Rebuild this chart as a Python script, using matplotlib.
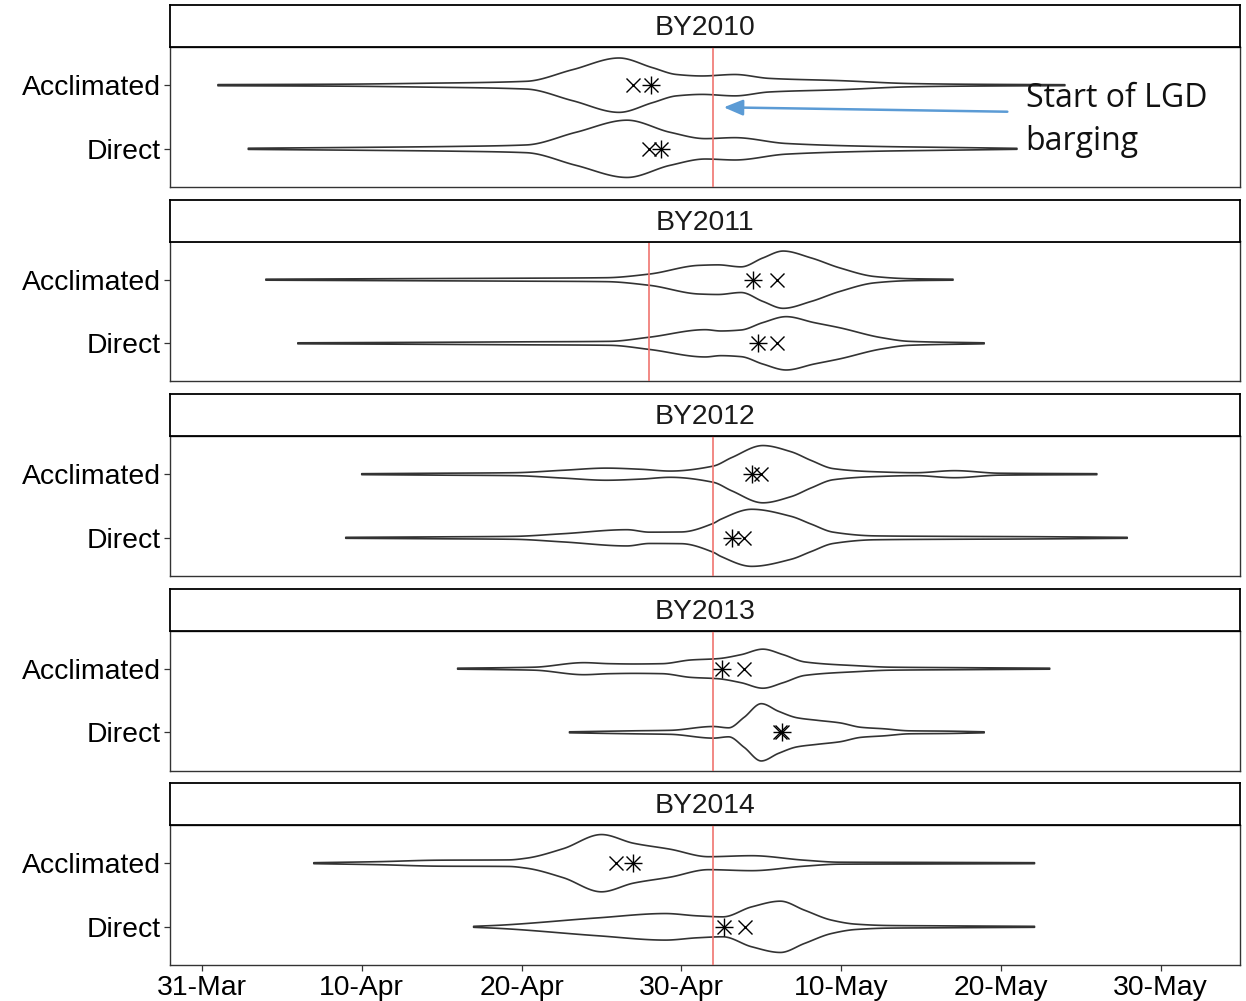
import numpy as np
import matplotlib
matplotlib.use("Agg")
import matplotlib.pyplot as plt

plt.rcParams["font.family"] = ["Liberation Sans", "DejaVu Sans"]

# Brood years shown as facets, top to bottom
brood_years = ["BY2010", "BY2011", "BY2012", "BY2013", "BY2014"]
groups = ["Acclimated", "Direct"]

# x axis: days after 31-Mar
tick_days = [0, 10, 20, 30, 40, 50, 60]
tick_labels = ["31-Mar", "10-Apr", "20-Apr", "30-Apr", "10-May", "20-May", "30-May"]

# Start of LGD barging per brood year (days after 31-Mar)
barging_start = [32, 28, 32, 32, 32]

# Violin density profiles: passage day and relative density
acc_days = [
    [1.0, 8.5, 14.0, 20.3, 23.2, 26.1, 28.2, 29.7, 31.3, 33.35, 35.5, 39.9, 44.3, 47.6, 54.0],
    [4.0, 12, 20, 25.3, 28.0, 31.1, 32.3, 33.74, 35.1, 36.37, 38.13, 39.9, 42.1, 44.27, 47.0],
    [10.0, 15, 19.5, 22.6, 25.3, 27.5, 29.3, 32.0, 33.15, 35.1, 36.86, 38.13, 39.5, 42.1, 44.66, 47.1, 49.9, 56.0],
    [16.0, 19, 20.8, 23.9, 25.5, 27.0, 28.8, 30.6, 32.27, 33.74, 35.1, 36.37, 37.74, 40.95, 43.1, 47.6, 53.05],
    [7.0, 11, 14.8, 19.2, 20.3, 22.6, 25.0, 27.0, 29.3, 31.7, 34.4, 37.7, 39.9, 45, 52.1],
]
acc_density = [
    [0.6, 1.0, 2.0, 4.0, 16.0, 28.0, 18.0, 11.0, 9.5, 11.0, 7.0, 4.7, 1.7, 1.0, 0.5],
    [0.5, 1.0, 1.5, 2.0, 5.7, 14.5, 15.0, 13.0, 22, 29, 22, 12, 3.2, 1.0, 0.5],
    [0.5, 1.0, 1.5, 4.0, 6.2, 5.0, 3.2, 8.3, 17.0, 29.3, 23.0, 14, 5.7, 2.5, 1.5, 3.6, 1.0, 0.5],
    [0.5, 1.0, 1.5, 6.0, 5.0, 4.7, 5.0, 8.7, 10.0, 14, 19.5, 14, 6.7, 3.0, 1.5, 1.0, 0.5],
    [0.5, 1.5, 3.0, 3.3, 5.0, 14.5, 28.7, 20.0, 14.0, 6.5, 7.5, 3.0, 1.0, 0.8, 0.5],
]
dir_days = [
    [2.9, 10, 16, 20.3, 23.4, 26.6, 29.3, 31.5, 33.35, 36.56, 42.1, 46.4, 51.0],
    [6.0, 14, 20, 25.5, 28.0, 31.5, 32.47, 33.74, 35.1, 36.56, 38.3, 39.9, 42.5, 44.27, 48.95],
    [9.0, 15, 19.5, 22.6, 26.6, 28.0, 30.0, 32.0, 32.47, 34.4, 36.86, 38.13, 39.5, 42.1, 46.6, 51.5, 57.9],
    [23.0, 27, 29.3, 32.0, 32.96, 33.93, 35.0, 36.08, 37.25, 38.5, 39.9, 41.25, 42.7, 44.27, 46.6, 48.95],
    [17.0, 18.5, 24.8, 29.0, 31.0, 32.6, 34.4, 36.2, 37.7, 39.4, 40.9, 43, 46, 52.1],
]
dir_density = [
    [0.6, 1.5, 2.5, 4.0, 17.0, 29.5, 17.0, 10.5, 11.5, 5.5, 2.5, 1.5, 0.5],
    [0.5, 1.0, 1.5, 2.0, 6.2, 13.8, 12.5, 13.5, 21, 27, 21, 15.8, 5.8, 2.0, 0.5],
    [0.5, 1.0, 1.5, 4.2, 8.3, 5.8, 6.0, 14.8, 19.0, 29.2, 22.0, 14, 5.8, 2.0, 1.5, 1.2, 0.5],
    [0.5, 1.5, 2.0, 5.8, 4.5, 15.0, 28.6, 21.0, 14.5, 12.0, 9.5, 5.0, 3.5, 1.5, 1.2, 0.5],
    [0.5, 1.5, 9.0, 13.3, 11.0, 10.0, 20.0, 25.7, 16.7, 6.7, 2.7, 1.3, 1.0, 0.5],
]

# Summary statistics (days after 31-Mar)
acc_mean = [28.1, 34.5, 34.4, 32.56, 27.0]
acc_median = [27.0, 36.0, 35.0, 33.93, 25.9]
dir_mean = [28.7, 34.8, 33.15, 36.27, 32.7]
dir_median = [28.0, 36.0, 33.93, 36.17, 34.0]


def pchip(x, y, xs):
    x = np.asarray(x, float)
    y = np.asarray(y, float)
    h = np.diff(x)
    delta = np.diff(y) / h
    n = len(x)
    m = np.zeros(n)
    for k in range(1, n - 1):
        if delta[k - 1] * delta[k] > 0:
            w1 = 2 * h[k] + h[k - 1]
            w2 = h[k] + 2 * h[k - 1]
            m[k] = (w1 + w2) / (w1 / delta[k - 1] + w2 / delta[k])
    m[0] = delta[0]
    m[-1] = delta[-1]
    idx = np.clip(np.searchsorted(x, xs) - 1, 0, n - 2)
    t = (xs - x[idx]) / h[idx]
    h00 = 2 * t**3 - 3 * t**2 + 1
    h10 = t**3 - 2 * t**2 + t
    h01 = -2 * t**3 + 3 * t**2
    h11 = t**3 - t**2
    return h00 * y[idx] + h10 * h[idx] * m[idx] + h01 * y[idx + 1] + h11 * h[idx] * m[idx + 1]


def draw_violin(ax, pos, days, dens, scale):
    xs = np.linspace(days[0], days[-1], 600)
    w = np.clip(pchip(days, dens, xs), 0, None) * scale
    px = np.concatenate([xs, xs[::-1]])
    py = np.concatenate([pos - w, (pos + w)[::-1]])
    ax.fill(px, py, facecolor="none", edgecolor="#333333", lw=1.2,
            joinstyle="round", zorder=2)


def draw_stat(ax, pos, mean, median):
    ax.plot([median], [pos], marker="x", ms=9.5, mew=1.0, color="black",
            ls="none", zorder=4)
    ax.plot([mean], [pos], marker="x", ms=9.5, mew=1.0, color="black",
            ls="none", zorder=4)
    ax.plot([mean], [pos], marker="+", ms=13.4, mew=1.0, color="black",
            ls="none", zorder=4)


W, H = 1246, 1001
fig = plt.figure(figsize=(W / 100, H / 100), dpi=100)

left = 170 / W
width = 1070 / W
step = 194.5
fs = 20.4

axes = []
for i, by in enumerate(brood_years):
    off = step * i
    ax = fig.add_axes([left, 1 - (187 + off) / H, width, 140 / H])
    sax = fig.add_axes([left, 1 - (47 + off) / H, width, 42 / H])
    sax.set_xticks([])
    sax.set_yticks([])
    for sp in sax.spines.values():
        sp.set_color("black")
        sp.set_linewidth(1.3)
    sax.text(0.5, 0.45, by, ha="center", va="center", fontsize=fs,
             color="#1A1A1A", transform=sax.transAxes)

    peak = max(max(acc_density[i]), max(dir_density[i]))
    scale = 0.45 / peak
    draw_violin(ax, 0, acc_days[i], acc_density[i], scale)
    draw_violin(ax, 1, dir_days[i], dir_density[i], scale)
    ax.axvline(barging_start[i], color="#F07470", lw=1.2, zorder=3)
    draw_stat(ax, 0, acc_mean[i], acc_median[i])
    draw_stat(ax, 1, dir_mean[i], dir_median[i])

    ax.set_xlim(-2.0, 64.96)
    ax.set_ylim(1.6, -0.6)
    ax.set_yticks([0, 1])
    ax.set_yticklabels(groups, fontsize=fs, color="black")
    ax.set_xticks(tick_days)
    ax.tick_params(axis="both", length=4.5, width=0.9, color="#333333", pad=2)
    if i == len(brood_years) - 1:
        ax.set_xticklabels(tick_labels, fontsize=fs, color="black")
        ax.tick_params(axis="x", pad=3)
    else:
        ax.tick_params(axis="x", length=0, labelbottom=False)
    for sp in ax.spines.values():
        sp.set_color("#333333")
        sp.set_linewidth(1.0)
    axes.append(ax)

# Annotation for the start of barging in the first panel
ax0 = axes[0]
ax0.annotate("", xy=(32.65, 0.348), xytext=(50.4, 0.417),
             arrowprops=dict(arrowstyle="-|>,head_length=0.58,head_width=0.24",
                             color="#5B9BD5", lw=1.8, mutation_scale=20,
                             shrinkA=0, shrinkB=0),
             zorder=5, annotation_clip=False)
ax0.text(51.55, 0.336, "Start of LGD", fontsize=23, family="Open Sans",
         color="#111111", ha="left", va="baseline", zorder=5)
ax0.text(51.55, 1.019, "barging", fontsize=23, family="Open Sans",
         color="#111111", ha="left", va="baseline", zorder=5)

fig.savefig("out.png", dpi=100)
